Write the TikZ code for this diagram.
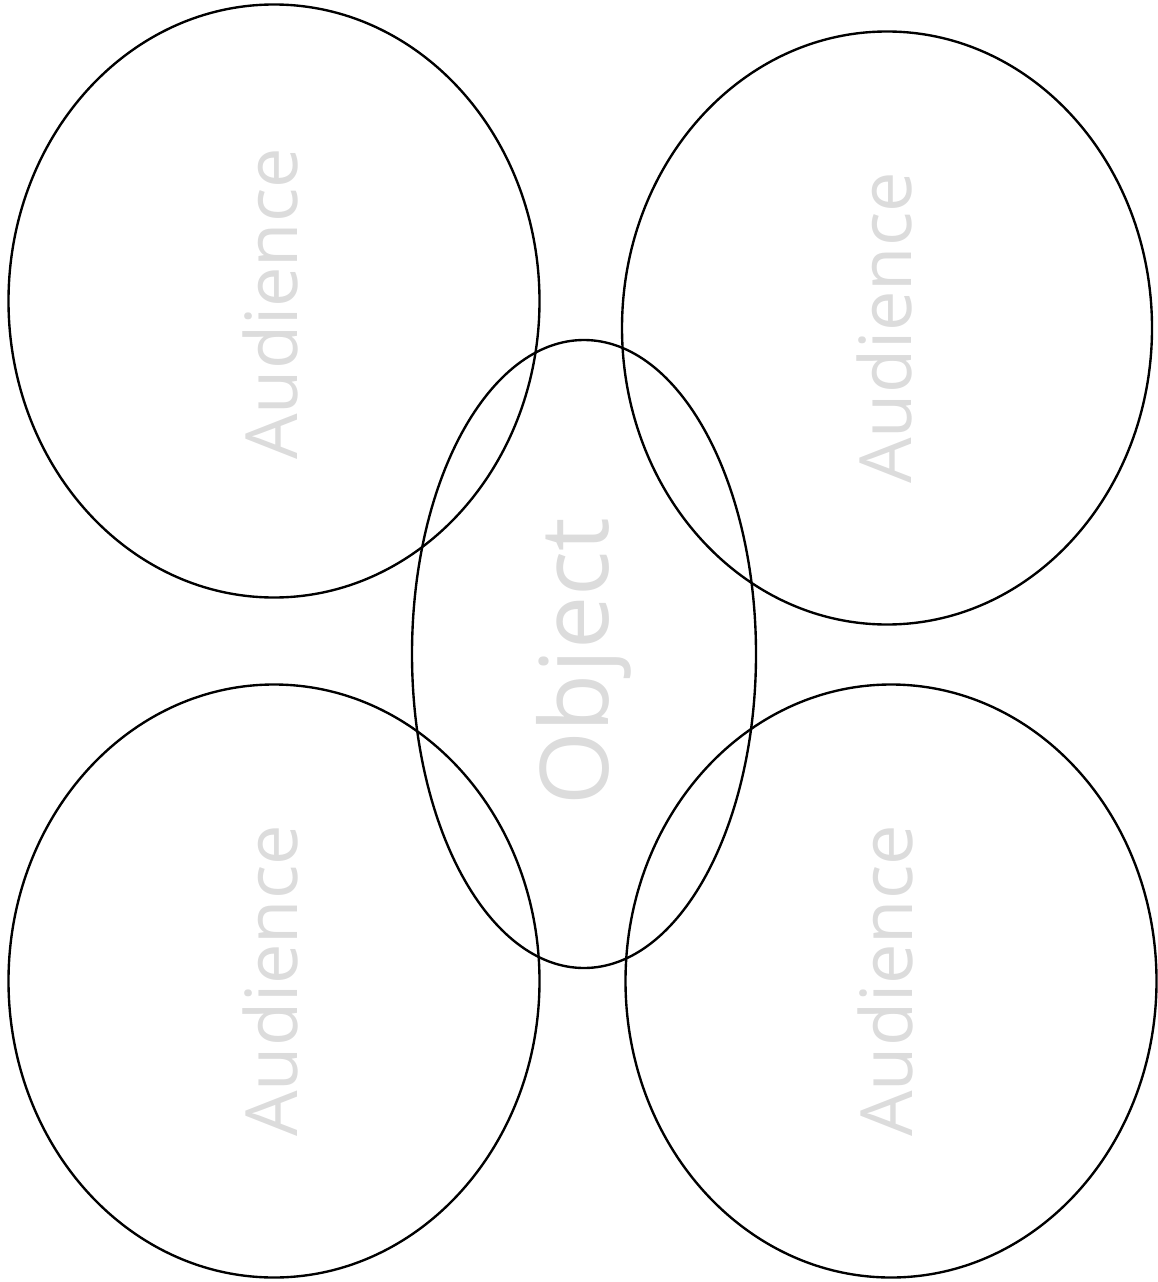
\documentclass[tikz,border=0pt]{standalone}
\usepackage{fontspec}
\setmainfont{Open Sans}
\usetikzlibrary{shapes.geometric, positioning}
\definecolor{labelgray}{RGB}{220,220,220}

\begin{document}
\begin{tikzpicture}[line width=1.35pt,
    ring/.style={draw, ellipse, inner sep=0pt},
    audience/.style={ring, minimum width=10.62cm, minimum height=11.86cm},
    tag/.style={rotate=90, text=labelgray, inner sep=0pt}]
  \useasboundingbox (0,0) rectangle (23.16,-25.64);

  % Audience rings
  \node[audience] (tl) at (5.48,-6.02) {};
  \node[audience, minimum width=10.60cm] (tr) at (17.74,-6.56) {};
  \node[audience] (bl) at (5.48,-19.62) {};
  \node[audience] (br) at (17.82,-19.62) {};

  % Object ring in the middle
  \node[ring, minimum width=6.88cm, minimum height=12.56cm] (obj) at (11.68,-13.08) {};

  % Labels
  \node[tag, font=\fontsize{41}{41}\selectfont] (tltxt) at (5.40,-6.08) {Audience};
  \node[tag, font=\fontsize{41}{41}\selectfont] (trtxt) at (17.68,-6.56) {Audience};
  \node[tag, font=\fontsize{41}{41}\selectfont] (bltxt) at (5.40,-19.62) {Audience};
  \node[tag, font=\fontsize{41}{41}\selectfont] (brtxt) at (17.70,-19.62) {Audience};
  \node[tag, font=\fontsize{54}{54}\selectfont] (objtxt) at (11.68,-13.24) {Object};
\end{tikzpicture}
\end{document}
